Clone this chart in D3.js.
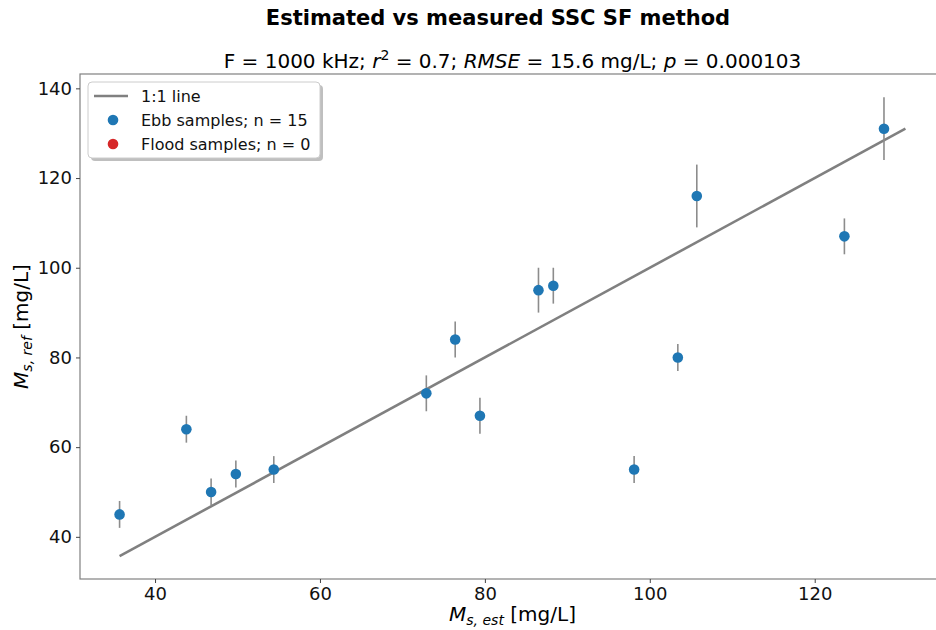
<!DOCTYPE html>
<html>
<head>
<meta charset="utf-8">
<script src="https://cdn.jsdelivr.net/npm/d3@7"></script>
<style>
  body { margin: 0; background: #fff; }
  text { font-family: "DejaVu Sans", sans-serif; }
</style>
</head>
<body>
<svg id="chart"></svg>
<script>
// estimated vs reference SSC (mg/L), ebb samples only
const ssEst  = [35.7, 43.8, 46.8, 49.8, 54.4, 72.9, 76.4, 79.4, 86.5, 88.3, 98.1, 103.4, 105.7, 123.6, 128.4];
const ssRef  = [45, 64, 50, 54, 55, 72, 84, 67, 95, 96, 55, 80, 116, 107, 131];
const refErr = [3, 3, 3, 3, 3, 4, 4, 4, 5, 4, 3, 3, 7, 4, 7];
const floodEst = [];
const floodRef = [];

const xTicks = [40, 60, 80, 100, 120];
const yTicks = [40, 60, 80, 100, 120, 140];
const xDomain = [30.9, 135.8];
const yDomain = [30.6, 143.2];

const legendLabels = ["1:1 line", "Ebb samples; n = " + ssEst.length, "Flood samples; n = " + floodEst.length];

var width = 936, height = 630;
var margin = {top: 74, right: -9, bottom: 51, left: 80};

var svg = d3.select("#chart")
  .attr("width", width)
  .attr("height", height);

svg.append("rect").attr("width", width).attr("height", height).attr("fill", "#fff");

var x = d3.scaleLinear().domain(xDomain).range([margin.left, width - margin.right]);
var y = d3.scaleLinear().domain(yDomain).range([height - margin.bottom, margin.top]);

// frame
svg.append("rect")
  .attr("x", x.range()[0]).attr("y", y.range()[1])
  .attr("width", x.range()[1] - x.range()[0])
  .attr("height", y.range()[0] - y.range()[1])
  .attr("fill", "none").attr("stroke", "#808080").attr("stroke-width", 1.2);

// axes
var xAxis = svg.append("g")
  .attr("transform", "translate(0," + y.range()[0] + ")")
  .call(d3.axisBottom(x).tickValues(xTicks).tickSize(4).tickPadding(4));
var yAxis = svg.append("g")
  .attr("transform", "translate(" + x.range()[0] + ",0)")
  .call(d3.axisLeft(y).tickValues(yTicks).tickSize(4).tickPadding(4));

[xAxis, yAxis].forEach(function(ax){
  ax.select(".domain").remove();
  ax.selectAll("line").attr("stroke", "#444");
  ax.selectAll("text").attr("font-size", "18px").attr("fill", "#111")
    .style("font-family", "DejaVu Sans");
});

// 1:1 line from smallest to largest value
var lo = d3.min(ssEst.concat(ssRef)), hi = d3.max(ssEst.concat(ssRef));
svg.append("line")
  .attr("x1", x(lo)).attr("y1", y(lo))
  .attr("x2", x(hi)).attr("y2", y(hi))
  .attr("stroke", "#808080").attr("stroke-width", 2.6);

// error bars
svg.append("g").selectAll("line")
  .data(ssEst)
  .enter()
  .append("line")
    .attr("x1", function(d){ return x(d); })
    .attr("x2", function(d){ return x(d); })
    .attr("y1", function(d, i){ return y(ssRef[i] - refErr[i]); })
    .attr("y2", function(d, i){ return y(ssRef[i] + refErr[i]); })
    .attr("stroke", "#8c8c8c").attr("stroke-width", 1.6);

// ebb points
svg.append("g").selectAll("circle")
  .data(ssEst)
  .enter()
  .append("circle")
    .attr("cx", function(d){ return x(d); })
    .attr("cy", function(d, i){ return y(ssRef[i]); })
    .attr("r", 5.3)
    .attr("fill", "#1f77b4");

// flood points (none)
svg.append("g").selectAll("circle")
  .data(floodEst)
  .enter()
  .append("circle")
    .attr("cx", function(d){ return x(d); })
    .attr("cy", function(d, i){ return y(floodRef[i]); })
    .attr("r", 5.3)
    .attr("fill", "#d62728");

// titles
svg.append("text")
  .attr("x", 498).attr("y", 25)
  .attr("text-anchor", "middle")
  .attr("font-size", "21px").attr("font-weight", "bold")
  .text("Estimated vs measured SSC SF method");

var sub = svg.append("text")
  .attr("x", (x.range()[0] + x.range()[1]) / 2).attr("y", 68)
  .attr("text-anchor", "middle")
  .attr("font-size", "20px");
sub.append("tspan").text("F = 1000 kHz; ");
sub.append("tspan").attr("font-style", "italic").text("r");
sub.append("tspan").attr("font-size", "14px").attr("dy", -8).text("2");
sub.append("tspan").attr("dy", 8).text(" = 0.7; ");
sub.append("tspan").attr("font-style", "italic").text("RMSE");
sub.append("tspan").text(" = 15.6 mg/L; ");
sub.append("tspan").attr("font-style", "italic").text("p");
sub.append("tspan").text(" = 0.000103");

// axis labels with subscripts
function mathLabel(t, subText){
  t.append("tspan").attr("font-style", "italic").text("M");
  t.append("tspan").attr("font-style", "italic").attr("font-size", "14px").attr("dy", 4).text(subText);
  t.append("tspan").attr("dy", -4).text(" [mg/L]");
}

var xl = svg.append("text")
  .attr("x", (x.range()[0] + x.range()[1]) / 2).attr("y", 621)
  .attr("text-anchor", "middle").attr("font-size", "20px");
mathLabel(xl, "s, est");

var yl = svg.append("text")
  .attr("transform", "translate(28," + ((y.range()[0] + y.range()[1]) / 2) + ")rotate(-90)")
  .attr("text-anchor", "middle").attr("font-size", "20px");
mathLabel(yl, "s, ref");

// legend
var lg = svg.append("g").attr("transform", "translate(88,82)");
lg.append("rect")
  .attr("x", 3).attr("y", 3).attr("width", 232).attr("height", 76).attr("rx", 4)
  .attr("fill", "#000").attr("opacity", 0.25);
lg.append("rect")
  .attr("width", 232).attr("height", 76).attr("rx", 4)
  .attr("fill", "#fff").attr("stroke", "#cccccc").attr("stroke-width", 1);

var rowY = [14, 38, 62];
lg.append("line")
  .attr("x1", 6).attr("x2", 40).attr("y1", rowY[0]).attr("y2", rowY[0])
  .attr("stroke", "#808080").attr("stroke-width", 2.6);
lg.append("circle").attr("cx", 25).attr("cy", rowY[1]).attr("r", 5.3).attr("fill", "#1f77b4");
lg.append("circle").attr("cx", 25).attr("cy", rowY[2]).attr("r", 5.3).attr("fill", "#d62728");

lg.selectAll("text.lab")
  .data(legendLabels)
  .enter()
  .append("text")
    .attr("class", "lab")
    .attr("x", 53)
    .attr("y", function(d, i){ return rowY[i]; })
    .attr("dy", "0.35em")
    .attr("font-size", "16px")
    .attr("fill", "#111")
    .text(function(d){ return d; });
</script>
</body>
</html>
